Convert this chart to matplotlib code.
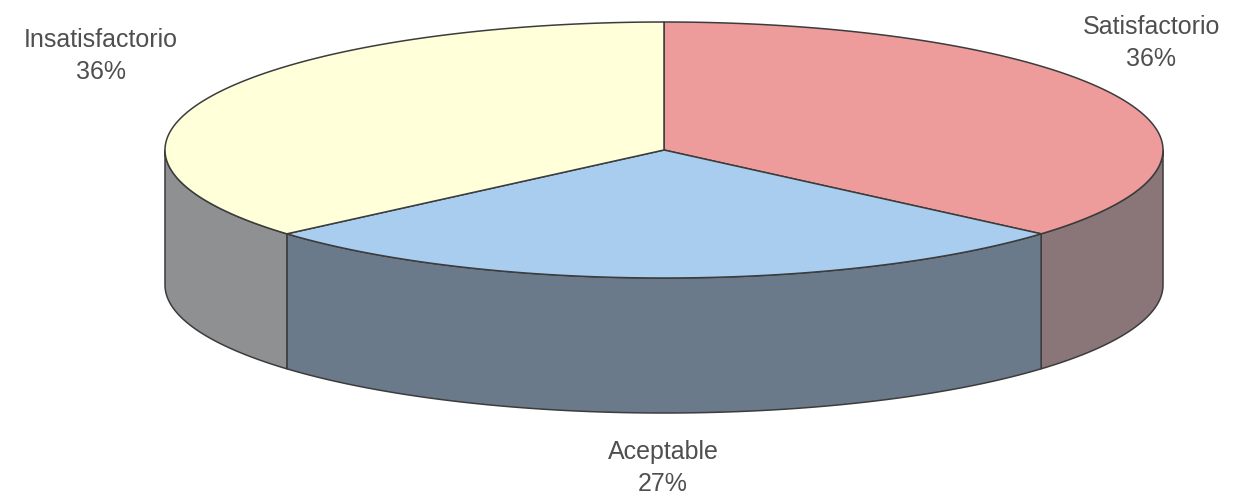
# 3D-style pie chart drawn with patches on a pixel-like canvas

import numpy as np
import matplotlib.pyplot as plt
from matplotlib.patches import Polygon

# data
labels = ['Satisfactorio', 'Aceptable', 'Insatisfactorio']
values = [4, 3, 4]

# colours: top face and side wall per slice
top_colors = ['#EE9C9B', '#A9CDEE', '#FFFFD9']
side_colors = ['#8A7579', '#6B7A8B', '#8F9092']
edge_color = '#3C3C3C'
text_color = '#4F4F4F'

# geometry of the disc (centre, radii, depth of the wall)
cx, cy = 664, 150
rx, ry = 499, 128
depth = 135

# label anchors (centre of the two text lines)
label_pos = [(1151, 43), (663, 468), (101, 56)]


def ellipse_pts(t0, t1, dy=0, n=200):
    t = np.radians(np.linspace(t0, t1, n))
    return np.column_stack([cx + rx * np.cos(t), cy - ry * np.sin(t) + dy])


fig = plt.figure(figsize=(12.38, 5.0), dpi=100)
ax = fig.add_axes([0, 0, 1, 1])
ax.set_xlim(0, 1238)
ax.set_ylim(500, 0)
ax.axis('off')

total = sum(values)
angles = [90.0]
for v in values:
    angles.append(angles[-1] - 360.0 * v / total)

# side walls: only the front half (angles between -180 and 0, modulo 360)
for i in range(len(values)):
    a_hi, a_lo = angles[i], angles[i + 1]
    for k in (-1, 0, 1):
        lo = max(a_lo, -180 + 360 * k)
        hi = min(a_hi, 0 + 360 * k)
        if hi <= lo:
            continue
        top = ellipse_pts(lo, hi)
        bottom = ellipse_pts(hi, lo, dy=depth)
        ax.add_patch(Polygon(np.vstack([top, bottom]), closed=True,
                             facecolor=side_colors[i], edgecolor=edge_color,
                             linewidth=1.1, joinstyle='round'))

# top faces
for i in range(len(values)):
    arc = ellipse_pts(angles[i + 1], angles[i])
    pts = np.vstack([[cx, cy], arc])
    ax.add_patch(Polygon(pts, closed=True, facecolor=top_colors[i],
                         edgecolor=edge_color, linewidth=1.1,
                         joinstyle='round'))

# labels with percentages
for lab, v, (x, y) in zip(labels, values, label_pos):
    ax.text(x, y, f'{lab}\n{v / total * 100:.0f}%', ha='center', va='center',
            fontsize=18, color=text_color, family='Liberation Sans',
            linespacing=1.4)

fig.savefig('out.png', dpi=100)
